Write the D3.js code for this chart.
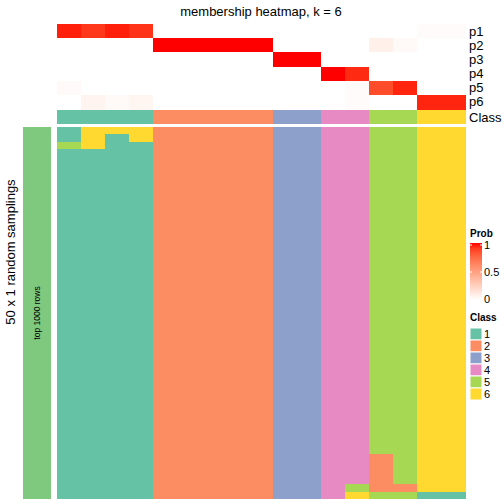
<!DOCTYPE html>
<html><head><meta charset="utf-8">
<script src="https://cdn.jsdelivr.net/npm/d3@7"></script>
<style>body{margin:0;background:#fff}svg{display:block}text{font-family:"Liberation Sans",Arial,sans-serif}</style>
</head><body>
<script>
// ---- data ----
const columns = d3.range(17).map(i => "s" + (i + 1));
const classOfColumn = [1,1,1,1,2,2,2,2,2,3,3,4,4,5,5,6,6];
const probRows = ["p1","p2","p3","p4","p5","p6"];
const p1 = [0.97,0.92,0.97,0.93,0,0,0,0,0,0,0,0,0,0,0,0.02,0.02];
const p2 = [0,0,0,0,1,1,1,1,1,0,0,0,0,0.08,0.03,0,0];
const p3 = [0,0,0,0,0,0,0,0,0,1,1,0,0,0,0,0,0];
const p4 = [0,0,0,0,0,0,0,0,0,0,0,1,0.95,0,0,0,0];
const p5 = [0.03,0,0,0,0,0,0,0,0,0,0,0,0.02,0.86,0.96,0,0];
const p6 = [0,0.06,0.03,0.05,0,0,0,0,0,0,0,0,0.02,0,0,0.96,0.96];
const probs = [p1,p2,p3,p4,p5,p6];
const classes = [1,2,3,4,5,6];
const classColors = ["#66C2A5","#FC8D62","#8DA0CB","#E78AC3","#A6D854","#FFD92F"];
const nSamplings = 50;
// class of each sampling (row) per column: exceptions to the column's class
// format: [column index, row index, class]
const exceptions = [
  [0,2,5],
  [1,0,6],[1,1,6],[1,2,6],
  [2,0,6],
  [3,0,6],[3,1,6],
  [12,48,5],[12,49,6],
  [13,44,2],[13,45,2],[13,46,2],[13,47,2],[13,48,2],[13,49,5],
  [14,48,2],[14,49,5],
  [15,49,1],[16,49,1]
];
const legendTicks = [0, 0.5, 1];

// ---- layout ----
const W = 504, H = 504;
const svg = d3.select("body").append("svg").attr("width", W).attr("height", H);
const x = d3.scaleBand().domain(columns).range([57, 465]);
const yTop = d3.scaleBand().domain(probRows).range([24, 109]);
const yMain = d3.scaleBand().domain(d3.range(nSamplings)).range([127, 499]);
const probColor = d3.scaleLinear().domain([0, 1]).range(["#FFFFFF", "#FF0000"]).interpolate(d3.interpolateLab);
const classColor = d3.scaleOrdinal().domain(classes).range(classColors);

// title
svg.append("text").attr("x", 261).attr("y", 16).attr("text-anchor", "middle")
  .attr("font-size", 13).text("membership heatmap, k = 6");

// probability heatmap
probRows.forEach((r, i) => {
  svg.append("g").attr("shape-rendering", "crispEdges").selectAll("rect").data(probs[i]).join("rect")
    .attr("x", (d, j) => x(columns[j])).attr("y", yTop(r))
    .attr("width", x.bandwidth() + 0.5).attr("height", yTop.bandwidth() + 0.5)
    .attr("fill", d => probColor(d));
  svg.append("text").attr("x", 469).attr("y", yTop(r) + yTop.bandwidth() / 2 + 4.5)
    .attr("font-size", 13).text(r);
});

// class annotation row
svg.append("g").attr("shape-rendering", "crispEdges").selectAll("rect").data(classOfColumn).join("rect")
  .attr("x", (d, j) => x(columns[j])).attr("y", 110)
  .attr("width", x.bandwidth() + 0.5).attr("height", 14)
  .attr("fill", d => classColor(d));
svg.append("text").attr("x", 469).attr("y", 121.5).attr("font-size", 13).text("Class");

// main matrix
const cells = [];
columns.forEach((c, j) => {
  d3.range(nSamplings).forEach(i => {
    cells.push({col: c, row: i, cls: classOfColumn[j]});
  });
});
exceptions.forEach(([j, i, k]) => { cells[j * nSamplings + i].cls = k; });
svg.append("g").attr("shape-rendering", "crispEdges").selectAll("rect").data(cells).join("rect")
  .attr("x", d => x(d.col)).attr("y", d => yMain(d.row))
  .attr("width", x.bandwidth() + 0.5).attr("height", d => d.row === nSamplings - 1 ? yMain.bandwidth() : yMain.bandwidth() + 1)
  .attr("fill", d => classColor(d.cls));

// left annotation
svg.append("rect").attr("x", 23).attr("y", 127).attr("width", 28).attr("height", 372).attr("fill", "#7FC97F");
svg.append("text").attr("transform", "translate(40,313) rotate(-90)").attr("text-anchor", "middle")
  .attr("font-size", 8.5).text("top 1000 rows");
svg.append("text").attr("transform", "translate(15,252) rotate(-90)").attr("text-anchor", "middle")
  .attr("font-size", 13).text("50 x 1 random samplings");

// Prob legend
const lg = svg.append("g");
lg.append("text").attr("x", 470).attr("y", 237).attr("font-size", 10).attr("font-weight", "bold").text("Prob");
const ly = d3.scaleLinear().domain([0, 1]).range([299, 245]);
const defs = svg.append("defs");
const grad = defs.append("linearGradient").attr("id", "pg").attr("x1", 0).attr("x2", 0).attr("y1", 1).attr("y2", 0);
d3.range(0, 1.01, 0.1).forEach(t => grad.append("stop").attr("offset", t).attr("stop-color", probColor(t)));
lg.append("rect").attr("x", 470).attr("y", 243).attr("width", 12).attr("height", 57).attr("fill", "url(#pg)");
legendTicks.forEach(t => {
  lg.append("line").attr("x1", 470).attr("x2", 472).attr("y1", ly(t)).attr("y2", ly(t)).attr("stroke", "#fff").attr("stroke-width", 1);
  lg.append("line").attr("x1", 480).attr("x2", 482).attr("y1", ly(t)).attr("y2", ly(t)).attr("stroke", "#fff").attr("stroke-width", 1);
  lg.append("text").attr("x", 484).attr("y", ly(t) + 4).attr("font-size", 11).text(t === 0 ? "0" : t === 1 ? "1" : "0.5");
});

// Class legend
lg.append("text").attr("x", 470).attr("y", 321).attr("font-size", 10).attr("font-weight", "bold").text("Class");
const cy = d3.scaleBand().domain(classes).range([328, 400]);
classes.forEach(k => {
  lg.append("rect").attr("x", 470).attr("y", cy(k)).attr("width", 12).attr("height", cy.bandwidth())
    .attr("fill", classColor(k)).attr("stroke", "#fff").attr("stroke-width", 1);
  lg.append("text").attr("x", 484).attr("y", cy(k) + cy.bandwidth() / 2 + 4).attr("font-size", 11).text(k);
});
</script>
</body></html>
